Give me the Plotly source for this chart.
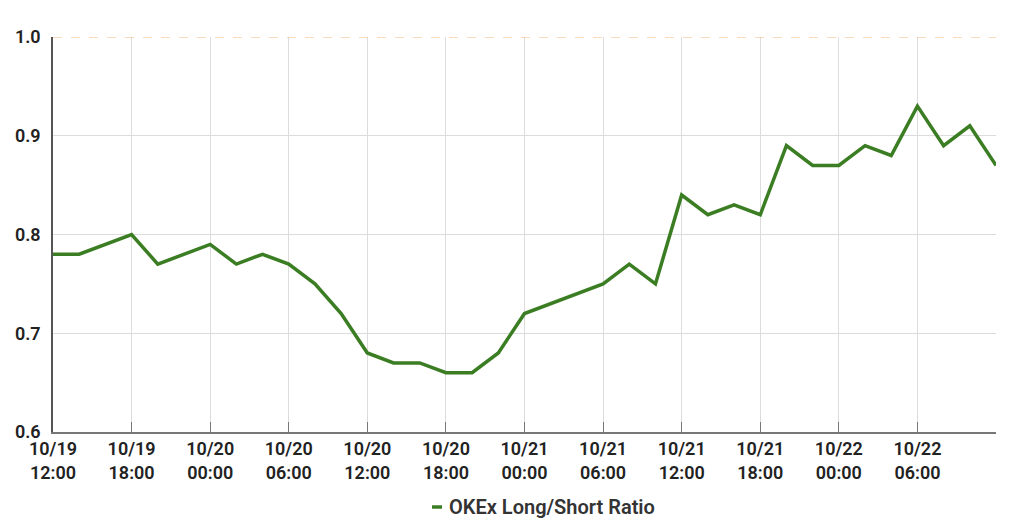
import plotly.graph_objects as go

times = [
    "2020-10-19 12:00", "2020-10-19 14:00", "2020-10-19 18:00", "2020-10-19 20:00",
    "2020-10-20 00:00", "2020-10-20 02:00", "2020-10-20 04:00", "2020-10-20 06:00",
    "2020-10-20 08:00", "2020-10-20 10:00", "2020-10-20 12:00", "2020-10-20 14:00",
    "2020-10-20 16:00", "2020-10-20 18:00", "2020-10-20 20:00", "2020-10-20 22:00",
    "2020-10-21 00:00", "2020-10-21 06:00", "2020-10-21 08:00", "2020-10-21 10:00",
    "2020-10-21 12:00", "2020-10-21 14:00", "2020-10-21 16:00", "2020-10-21 18:00",
    "2020-10-21 20:00", "2020-10-21 22:00", "2020-10-22 00:00", "2020-10-22 02:00",
    "2020-10-22 04:00", "2020-10-22 06:00", "2020-10-22 08:00", "2020-10-22 10:00",
    "2020-10-22 12:00",
]
ratio = [
    0.78, 0.78, 0.80, 0.77,
    0.79, 0.77, 0.78, 0.77,
    0.75, 0.72, 0.68, 0.67,
    0.67, 0.66, 0.66, 0.68,
    0.72, 0.75, 0.77, 0.75,
    0.84, 0.82, 0.83, 0.82,
    0.89, 0.87, 0.87, 0.89,
    0.88, 0.93, 0.89, 0.91,
    0.87,
]
tick_vals = [
    "2020-10-19 12:00", "2020-10-19 18:00", "2020-10-20 00:00", "2020-10-20 06:00",
    "2020-10-20 12:00", "2020-10-20 18:00", "2020-10-21 00:00", "2020-10-21 06:00",
    "2020-10-21 12:00", "2020-10-21 18:00", "2020-10-22 00:00", "2020-10-22 06:00",
    "2020-10-22 12:00",
]
tick_text = [
    "10/19<br>12:00", "10/19<br>18:00", "10/20<br>00:00", "10/20<br>06:00",
    "10/20<br>12:00", "10/20<br>18:00", "10/21<br>00:00", "10/21<br>06:00",
    "10/21<br>12:00", "10/21<br>18:00", "10/22<br>00:00", "10/22<br>06:00",
    "",
]
series_name = "OKEx Long/Short Ratio"
green = "#3b7d23"

# plot area in page pixels (page body has an 8px margin)
PL, PR, PT, PB = 53, 996, 37, 432
PW, PH = PR - PL, PB - PT
FW, FH = 1008, 515

fig = go.Figure()
fig.add_trace(go.Scatter(x=times, y=ratio, mode="lines", name=series_name,
                         line=dict(color=green, width=3.5), showlegend=False))

tick_font = dict(family="Roboto", size=18, color="#222", weight=600)
fig.update_layout(
    width=FW, height=FH,
    margin=dict(l=PL - 8, r=8 + FW - PR, t=PT - 8, b=8 + FH - PB),
    paper_bgcolor="white", plot_bgcolor="white",
    xaxis=dict(
        type="date", range=[tick_vals[0], tick_vals[-1]],
        tickmode="array", tickvals=tick_vals, ticktext=tick_text,
        showgrid=True, gridcolor="#dcdcdc", gridwidth=1,
        showline=True, linecolor="#777", linewidth=1.5,
        ticks="inside", ticklen=10, tickcolor="#777",
        tickfont=tick_font, ticklabelstandoff=0,
        zeroline=False, automargin=False,
    ),
    yaxis=dict(
        range=[0.6, 1.0], dtick=0.1, tickformat=".1f",
        showgrid=True, gridcolor="#dcdcdc", gridwidth=1,
        showline=True, linecolor="#555", linewidth=1.5,
        ticks="", ticklabelstandoff=7,
        tickfont=tick_font, zeroline=False, automargin=False,
    ),
    showlegend=False,
)

fig.add_shape(type="line", xref="paper", yref="y", x0=0, x1=1, y0=1.0, y1=1.0,
              line=dict(color="#f3b57a", width=1.2, dash="dash"), layer="above")
# legend
fig.add_shape(type="line", xref="paper", yref="paper",
              x0=(432 - PL) / PW, x1=(442 - PL) / PW,
              y0=-(507 - PB) / PH, y1=-(507 - PB) / PH,
              line=dict(color=green, width=3.5))
fig.add_annotation(text=series_name, xref="paper", yref="paper",
                   x=(447 - PL) / PW, y=-(507 - PB) / PH,
                   xanchor="left", yanchor="middle", showarrow=False,
                   font=dict(family="Roboto", size=20, color="#333", weight=600))

fig.write_html("out.html")
